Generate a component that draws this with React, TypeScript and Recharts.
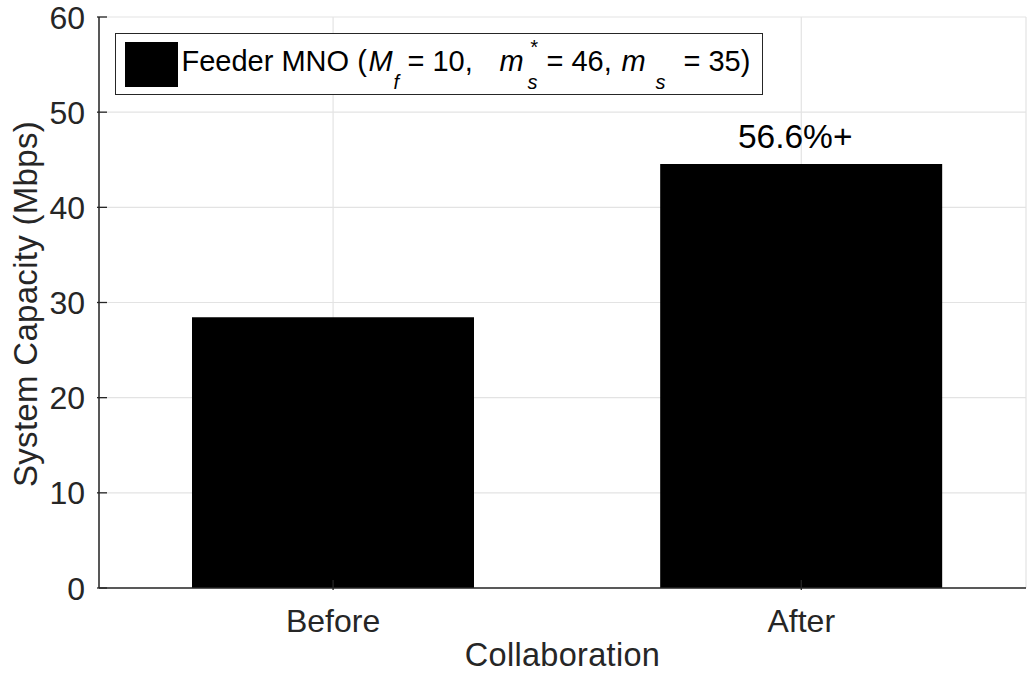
import React from 'react';
import {
  BarChart,
  Bar,
  XAxis,
  YAxis,
  CartesianGrid,
  Legend,
  LabelList,
  Label
} from 'recharts';

const categories = ['Before', 'After'];
const categoryPositions = [1, 2];
const capacity = [28.45, 44.55];
const barLabels = ['', '56.6%+'];
const yTicks = [0, 10, 20, 30, 40, 50, 60];

const data = categories.map((name, i) => ({
  x: categoryPositions[i],
  name,
  capacity: capacity[i],
  label: barLabels[i]
}));

const FONT = '"Liberation Sans", Arial, Helvetica, sans-serif';
const INK = '#262626';
const TICK_LEN = 10;
const LEGEND_LEFT = 115;

const LeftTick = ({ x, y, payload }: any) => (
  <g>
    <line x1={x} x2={x + TICK_LEN} y1={y} y2={y} stroke={INK} strokeWidth={1.3} />
    <text x={x - 12} y={y} dy="0.36em" textAnchor="end" fill={INK} fontSize={32} fontFamily={FONT}>
      {payload.value}
    </text>
  </g>
);

const RightTick = ({ x, y }: any) => (
  <line x1={x} x2={x - TICK_LEN} y1={y} y2={y} stroke={INK} strokeWidth={1.3} />
);

const BottomTick = ({ x, y, payload }: any) => (
  <g>
    <line x1={x} x2={x} y1={y} y2={y - TICK_LEN} stroke={INK} strokeWidth={1.3} />
    <text x={x} y={y + 42} textAnchor="middle" fill={INK} fontSize={32} fontFamily={FONT}>
      {categories[payload.value - 1]}
    </text>
  </g>
);

const TopTick = ({ x, y }: any) => (
  <line x1={x} x2={x} y1={y} y2={y + TICK_LEN} stroke={INK} strokeWidth={1.3} />
);

// legend text pieces: [text, page x, kind]
const legendPieces: [string, number, 'main' | 'it' | 'sub' | 'sup'][] = [
  ['Feeder MNO (', 182, 'main'],
  ['M', 369, 'it'],
  ['f', 394, 'sub'],
  ['= 10,', 408, 'main'],
  ['m', 500, 'it'],
  ['*', 530, 'sup'],
  ['s', 528, 'sub'],
  ['= 46,', 547, 'main'],
  ['m', 622, 'it'],
  ['s', 656, 'sub'],
  ['= 35)', 684, 'main']
];

const pieceStyle = (kind: string): React.CSSProperties => {
  if (kind === 'sub') return { fontSize: 20, fontStyle: 'italic', top: 37 };
  if (kind === 'sup') return { fontSize: 20, fontStyle: 'italic', top: 2 };
  return { fontSize: 29, fontStyle: kind === 'it' ? 'italic' : 'normal', top: 11 };
};

const LegendBox = () => (
  <div
    style={{
      position: 'relative',
      width: 646,
      height: 60,
      border: `1.5px solid ${INK}`,
      background: '#fff',
      fontFamily: FONT,
      color: '#000',
      whiteSpace: 'nowrap'
    }}
  >
    <div style={{ position: 'absolute', left: 9, top: 8, width: 53, height: 45, background: '#000' }} />
    {legendPieces.map(([text, px, kind], i) => (
      <span
        key={i}
        style={{ position: 'absolute', left: px - LEGEND_LEFT - 1.5, lineHeight: 'normal', ...pieceStyle(kind) }}
      >
        {text}
      </span>
    ))}
  </div>
);

const BarTopLabel = (props: any) => {
  const { x, y, width, value } = props;
  if (!value) return null;
  return (
    <text x={x + width / 2 - 6} y={y - 16} textAnchor="middle" fill="#000" fontSize={33.5} fontFamily={FONT}>
      {value}
    </text>
  );
};

export default function App() {
  return (
    <div style={{ position: 'absolute', left: 0, top: 0, width: 1027, height: 677, background: '#fff' }}>
      <BarChart
        width={1027}
        height={677}
        data={data}
        margin={{ top: 17, right: 1, bottom: 0, left: 0 }}
      >
        <CartesianGrid stroke="#e3e3e3" strokeWidth={1.2} />
        <XAxis
          dataKey="x"
          type="number"
          domain={[0.5, 2.48]}
          ticks={categoryPositions}
          allowDataOverflow
          height={89}
          tickSize={0}
          tickLine={false}
          tick={<BottomTick />}
          axisLine={{ stroke: INK, strokeWidth: 1.5 }}
        >
          <Label
            value="Collaboration"
            position="insideBottom"
            offset={11}
            fill={INK}
            fontSize={32.5}
            letterSpacing={0.3}
            fontFamily={FONT}
          />
        </XAxis>
        <XAxis
          xAxisId="top"
          dataKey="x"
          type="number"
          orientation="top"
          domain={[0.5, 2.48]}
          ticks={categoryPositions}
          allowDataOverflow
          height={0}
          tickSize={0}
          tickLine={false}
          tick={<TopTick />}
          axisLine={{ stroke: INK, strokeWidth: 1.5 }}
        />
        <YAxis
          type="number"
          domain={[0, 60]}
          ticks={yTicks}
          width={99}
          tickSize={0}
          tickLine={false}
          tick={<LeftTick />}
          axisLine={{ stroke: INK, strokeWidth: 1.5 }}
        >
          <Label
            content={() => (
              <text
                x={0}
                y={0}
                transform="translate(37, 304) rotate(-90)"
                textAnchor="middle"
                fill={INK}
                fontSize={33}
                letterSpacing={0.3}
                fontFamily={FONT}
              >
                System Capacity (Mbps)
              </text>
            )}
          />
        </YAxis>
        <YAxis
          yAxisId="right"
          orientation="right"
          type="number"
          domain={[0, 60]}
          ticks={yTicks}
          width={0}
          tickSize={0}
          tickLine={false}
          tick={<RightTick />}
          axisLine={{ stroke: INK, strokeWidth: 1.5 }}
        />
        <Legend
          layout="vertical"
          align="center"
          verticalAlign="middle"
          wrapperStyle={{ left: LEGEND_LEFT, top: 33, width: 650 }}
          content={<LegendBox />}
        />
        <Bar dataKey="capacity" fill="#000" barSize={282} isAnimationActive={false}>
          <LabelList dataKey="label" content={<BarTopLabel />} />
        </Bar>
      </BarChart>
    </div>
  );
}
